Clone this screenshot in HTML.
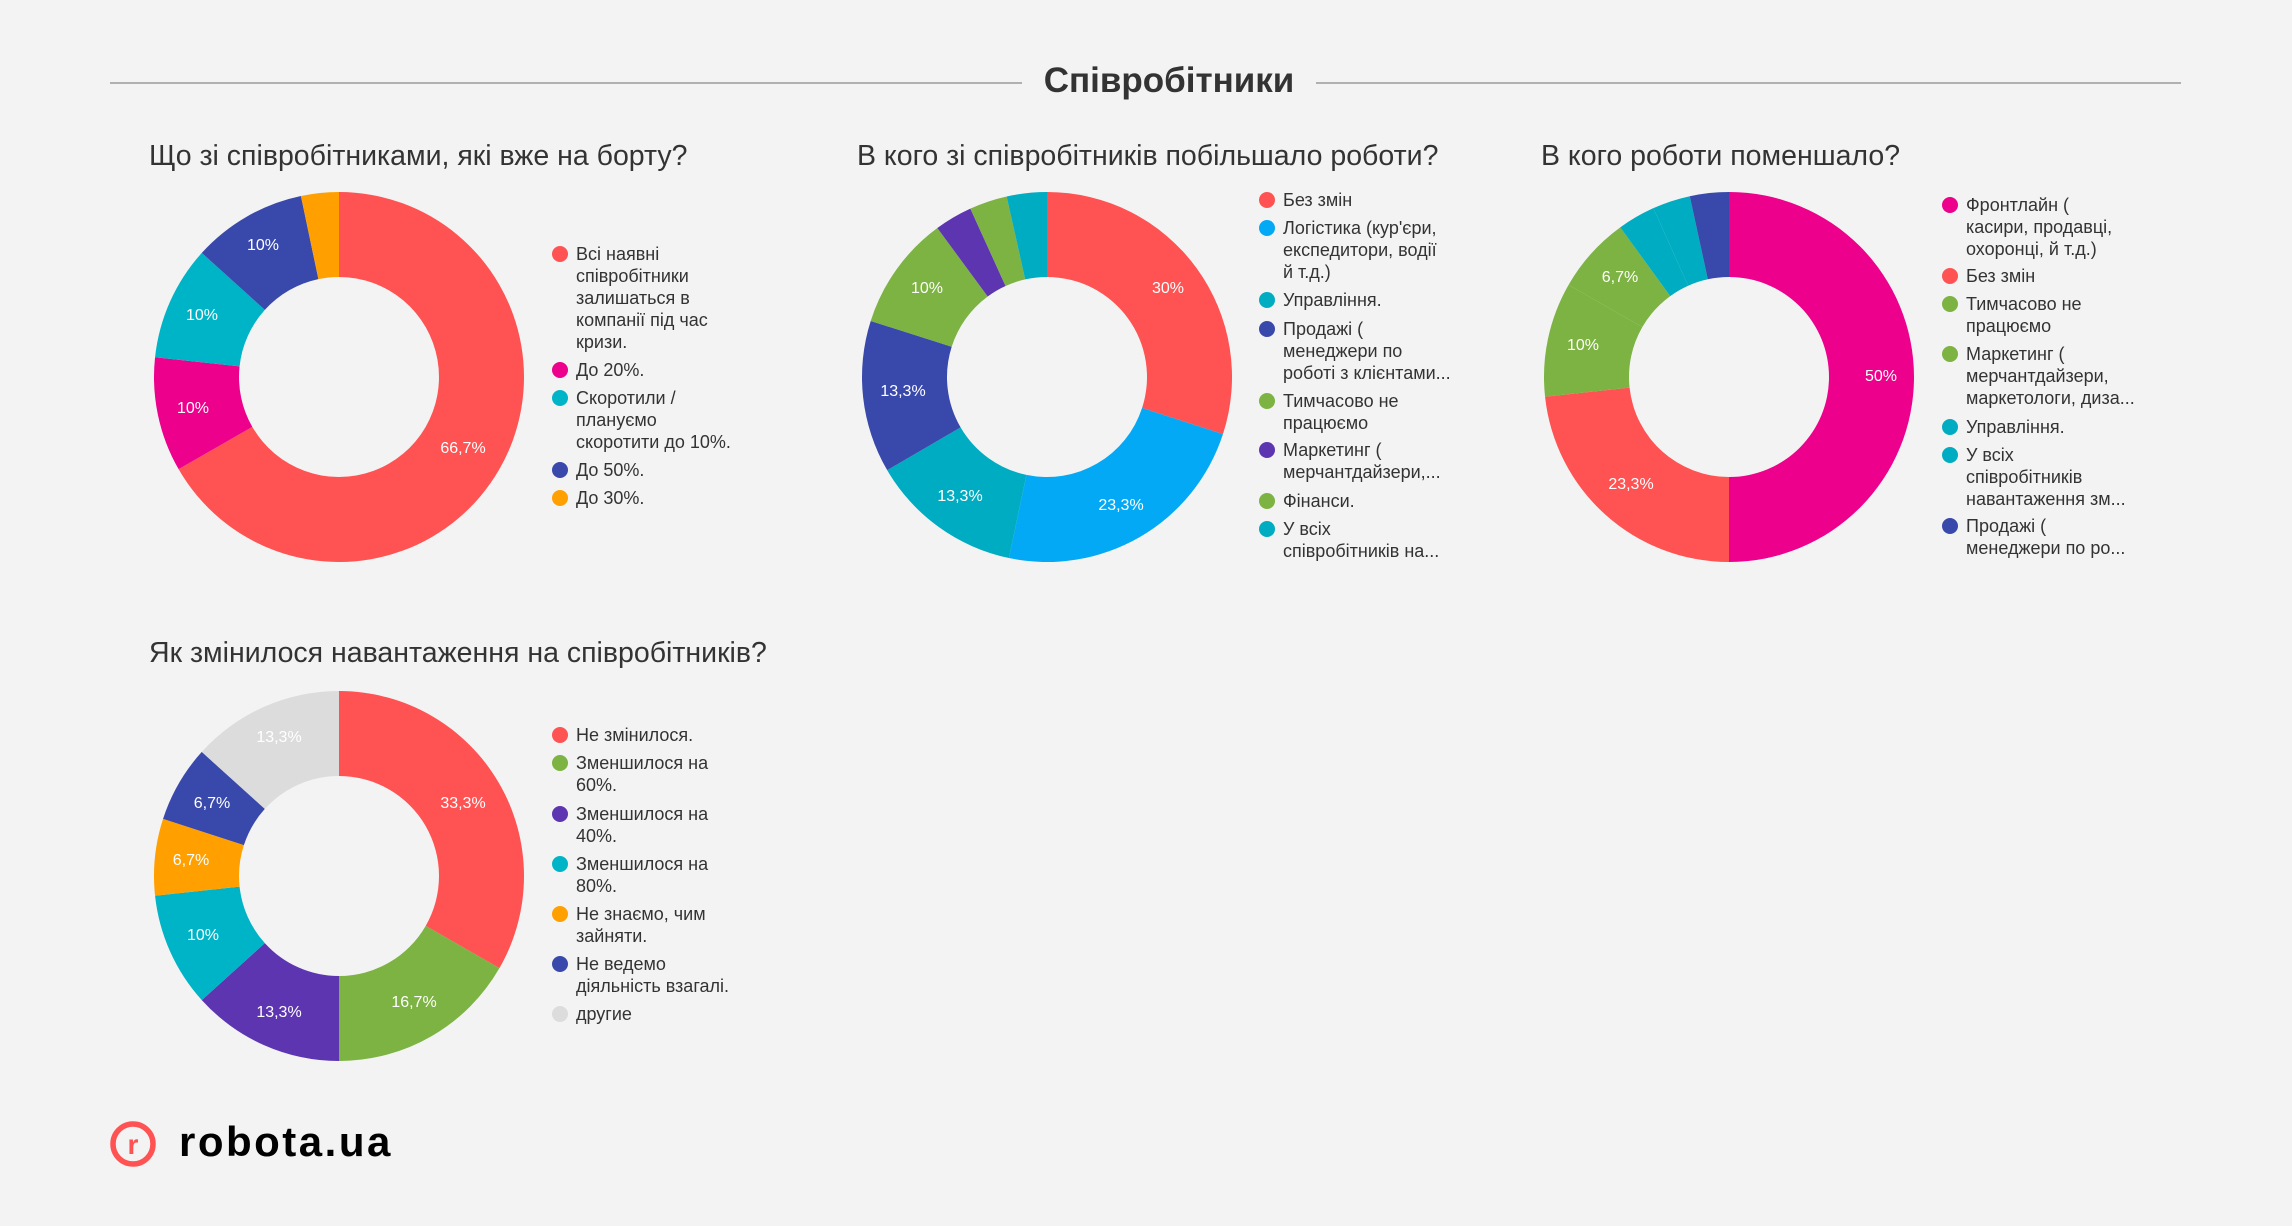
<!DOCTYPE html>
<html><head><meta charset="utf-8">
<style>
html,body{margin:0;padding:0;background:#f3f3f3;}
svg{display:block;font-family:"Liberation Sans","DejaVu Sans",sans-serif;}
.t{font-size:28.5px;fill:#333;}
.lg{font-size:18px;fill:#333;}
.pl{font-size:16px;fill:#fff;text-anchor:middle;dominant-baseline:middle;}
</style></head>
<body>
<svg id="s" width="2292" height="1226" viewBox="0 0 2292 1226" xmlns="http://www.w3.org/2000/svg">
<rect width="2292" height="1226" fill="#f3f3f3"/>
<line x1="110" y1="83" x2="1022" y2="83" stroke="#999" stroke-width="1.5"/>
<line x1="1316" y1="83" x2="2181" y2="83" stroke="#999" stroke-width="1.5"/>
<text x="1169" y="92" text-anchor="middle" font-size="35" font-weight="bold" fill="#333">Співробітники</text>

<g id="pies"></g>

<text class="t" x="149" y="165">Що зі співробітниками, які вже на борту?</text>
<text class="t" x="857" y="165">В кого зі співробітників побільшало роботи?</text>
<text class="t" x="1541" y="165">В кого роботи поменшало?</text>
<text class="t" x="149" y="662">Як змінилося навантаження на співробітників?</text>

<text class="pl" x="463" y="449">66,7%</text>
<text class="pl" x="193" y="409">10%</text>
<text class="pl" x="202" y="316" fill="#555">10%</text>
<text class="pl" x="263" y="246">10%</text>
<text class="pl" x="1168" y="289">30%</text>
<text class="pl" x="1121" y="506">23,3%</text>
<text class="pl" x="960" y="497" fill="#555">13,3%</text>
<text class="pl" x="903" y="392">13,3%</text>
<text class="pl" x="927" y="289">10%</text>
<text class="pl" x="1881" y="377">50%</text>
<text class="pl" x="1631" y="485">23,3%</text>
<text class="pl" x="1583" y="346">10%</text>
<text class="pl" x="1620" y="278">6,7%</text>
<text class="pl" x="463" y="804">33,3%</text>
<text class="pl" x="414" y="1003">16,7%</text>
<text class="pl" x="279" y="1013">13,3%</text>
<text class="pl" x="203" y="936" fill="#555">10%</text>
<text class="pl" x="191" y="861" fill="#555">6,7%</text>
<text class="pl" x="212" y="804">6,7%</text>
<text class="pl" x="279" y="738" fill="#888">13,3%</text>

<circle cx="560" cy="254" r="8" fill="#ff5252"/>
<text class="lg" x="576" y="260">Всі наявні</text>
<text class="lg" x="576" y="282">співробітники</text>
<text class="lg" x="576" y="304">залишаться в</text>
<text class="lg" x="576" y="326">компанії під час</text>
<text class="lg" x="576" y="348">кризи.</text>
<circle cx="560" cy="370" r="8" fill="#ec008c"/>
<text class="lg" x="576" y="376">До 20%.</text>
<circle cx="560" cy="398" r="8" fill="#00b4c8"/>
<text class="lg" x="576" y="404">Скоротили /</text>
<text class="lg" x="576" y="426">плануємо</text>
<text class="lg" x="576" y="448">скоротити до 10%.</text>
<circle cx="560" cy="470" r="8" fill="#3949ab"/>
<text class="lg" x="576" y="476">До 50%.</text>
<circle cx="560" cy="498" r="8" fill="#ffa000"/>
<text class="lg" x="576" y="504">До 30%.</text>

<circle cx="1267" cy="200" r="8" fill="#ff5252"/>
<text class="lg" x="1283" y="206">Без змін</text>
<circle cx="1267" cy="228" r="8" fill="#03a9f4"/>
<text class="lg" x="1283" y="234">Логістика (кур'єри,</text>
<text class="lg" x="1283" y="256">експедитори, водії</text>
<text class="lg" x="1283" y="278">й т.д.)</text>
<circle cx="1267" cy="300" r="8" fill="#00acc1"/>
<text class="lg" x="1283" y="306">Управління.</text>
<circle cx="1267" cy="329" r="8" fill="#3949ab"/>
<text class="lg" x="1283" y="335">Продажі (</text>
<text class="lg" x="1283" y="357">менеджери по</text>
<text class="lg" x="1283" y="379">роботі з клієнтами...</text>
<circle cx="1267" cy="401" r="8" fill="#7cb342"/>
<text class="lg" x="1283" y="407">Тимчасово не</text>
<text class="lg" x="1283" y="429">працюємо</text>
<circle cx="1267" cy="450" r="8" fill="#5e35b1"/>
<text class="lg" x="1283" y="456">Маркетинг (</text>
<text class="lg" x="1283" y="478">мерчантдайзери,...</text>
<circle cx="1267" cy="501" r="8" fill="#7cb342"/>
<text class="lg" x="1283" y="507">Фінанси.</text>
<circle cx="1267" cy="529" r="8" fill="#00acc1"/>
<text class="lg" x="1283" y="535">У всіх</text>
<text class="lg" x="1283" y="557">співробітників на...</text>

<circle cx="1950" cy="205" r="8" fill="#ec008c"/>
<text class="lg" x="1966" y="211">Фронтлайн (</text>
<text class="lg" x="1966" y="233">касири, продавці,</text>
<text class="lg" x="1966" y="255">охоронці, й т.д.)</text>
<circle cx="1950" cy="276" r="8" fill="#ff5252"/>
<text class="lg" x="1966" y="282">Без змін</text>
<circle cx="1950" cy="304" r="8" fill="#7cb342"/>
<text class="lg" x="1966" y="310">Тимчасово не</text>
<text class="lg" x="1966" y="332">працюємо</text>
<circle cx="1950" cy="354" r="8" fill="#7cb342"/>
<text class="lg" x="1966" y="360">Маркетинг (</text>
<text class="lg" x="1966" y="382">мерчантдайзери,</text>
<text class="lg" x="1966" y="404">маркетологи, диза...</text>
<circle cx="1950" cy="427" r="8" fill="#00acc1"/>
<text class="lg" x="1966" y="433">Управління.</text>
<circle cx="1950" cy="455" r="8" fill="#00acc1"/>
<text class="lg" x="1966" y="461">У всіх</text>
<text class="lg" x="1966" y="483">співробітників</text>
<text class="lg" x="1966" y="505">навантаження зм...</text>
<circle cx="1950" cy="526" r="8" fill="#3949ab"/>
<text class="lg" x="1966" y="532">Продажі (</text>
<text class="lg" x="1966" y="554">менеджери по ро...</text>

<circle cx="560" cy="735" r="8" fill="#ff5252"/>
<text class="lg" x="576" y="741">Не змінилося.</text>
<circle cx="560" cy="763" r="8" fill="#7cb342"/>
<text class="lg" x="576" y="769">Зменшилося на</text>
<text class="lg" x="576" y="791">60%.</text>
<circle cx="560" cy="814" r="8" fill="#5e35b1"/>
<text class="lg" x="576" y="820">Зменшилося на</text>
<text class="lg" x="576" y="842">40%.</text>
<circle cx="560" cy="864" r="8" fill="#00b4c8"/>
<text class="lg" x="576" y="870">Зменшилося на</text>
<text class="lg" x="576" y="892">80%.</text>
<circle cx="560" cy="914" r="8" fill="#ffa000"/>
<text class="lg" x="576" y="920">Не знаємо, чим</text>
<text class="lg" x="576" y="942">зайняти.</text>
<circle cx="560" cy="964" r="8" fill="#3949ab"/>
<text class="lg" x="576" y="970">Не ведемо</text>
<text class="lg" x="576" y="992">діяльність взагалі.</text>
<circle cx="560" cy="1014" r="8" fill="#dcdcdc"/>
<text class="lg" x="576" y="1020">другие</text>

<circle cx="133" cy="1144" r="20" fill="none" stroke="#ff5252" stroke-width="5.5"/>
<text x="133" y="1154" text-anchor="middle" font-size="28" font-weight="bold" fill="#ff5252">r</text>
<text x="179" y="1156" font-size="42" font-weight="bold" fill="#000" letter-spacing="2.5">robota.ua</text>
</svg>
<script>
(function(){
var g=document.getElementById('pies');
var R=185,r=100;
var charts=[
 [339,377,[[66.7,'#ff5252'],[10,'#ec008c'],[10,'#00b4c8'],[10,'#3949ab'],[3.3,'#ffa000']]],
 [1047,377,[[30,'#ff5252'],[23.3,'#03a9f4'],[13.3,'#00acc1'],[13.3,'#3949ab'],[10,'#7cb342'],[3.3,'#5e35b1'],[3.3,'#7cb342'],[3.5,'#00acc1']]],
 [1729,377,[[50,'#ec008c'],[23.3,'#ff5252'],[10,'#7cb342'],[6.7,'#7cb342'],[3.3,'#00acc1'],[3.3,'#00acc1'],[3.4,'#3949ab']]],
 [339,876,[[33.3,'#ff5252'],[16.7,'#7cb342'],[13.3,'#5e35b1'],[10,'#00b4c8'],[6.7,'#ffa000'],[6.7,'#3949ab'],[13.3,'#dcdcdc']]]
];
function pt(cx,cy,rad,a){return [cx+rad*Math.sin(a),cy-rad*Math.cos(a)];}
charts.forEach(function(c){
 var cx=c[0],cy=c[1],tot=0;c[2].forEach(function(s){tot+=s[0];});
 var a0=0;
 c[2].forEach(function(s){
  var a1=a0+s[0]/tot*2*Math.PI;
  var p1=pt(cx,cy,R,a0),p2=pt(cx,cy,R,a1),p3=pt(cx,cy,r,a1),p4=pt(cx,cy,r,a0);
  var lg=(a1-a0)>Math.PI?1:0;
  var d='M'+p1+' A'+R+' '+R+' 0 '+lg+' 1 '+p2+' L'+p3+' A'+r+' '+r+' 0 '+lg+' 0 '+p4+' Z';
  var e=document.createElementNS('http://www.w3.org/2000/svg','path');
  e.setAttribute('d',d);e.setAttribute('fill',s[1]);
  g.appendChild(e);a0=a1;
 });
});
})();
</script>
</body></html>
